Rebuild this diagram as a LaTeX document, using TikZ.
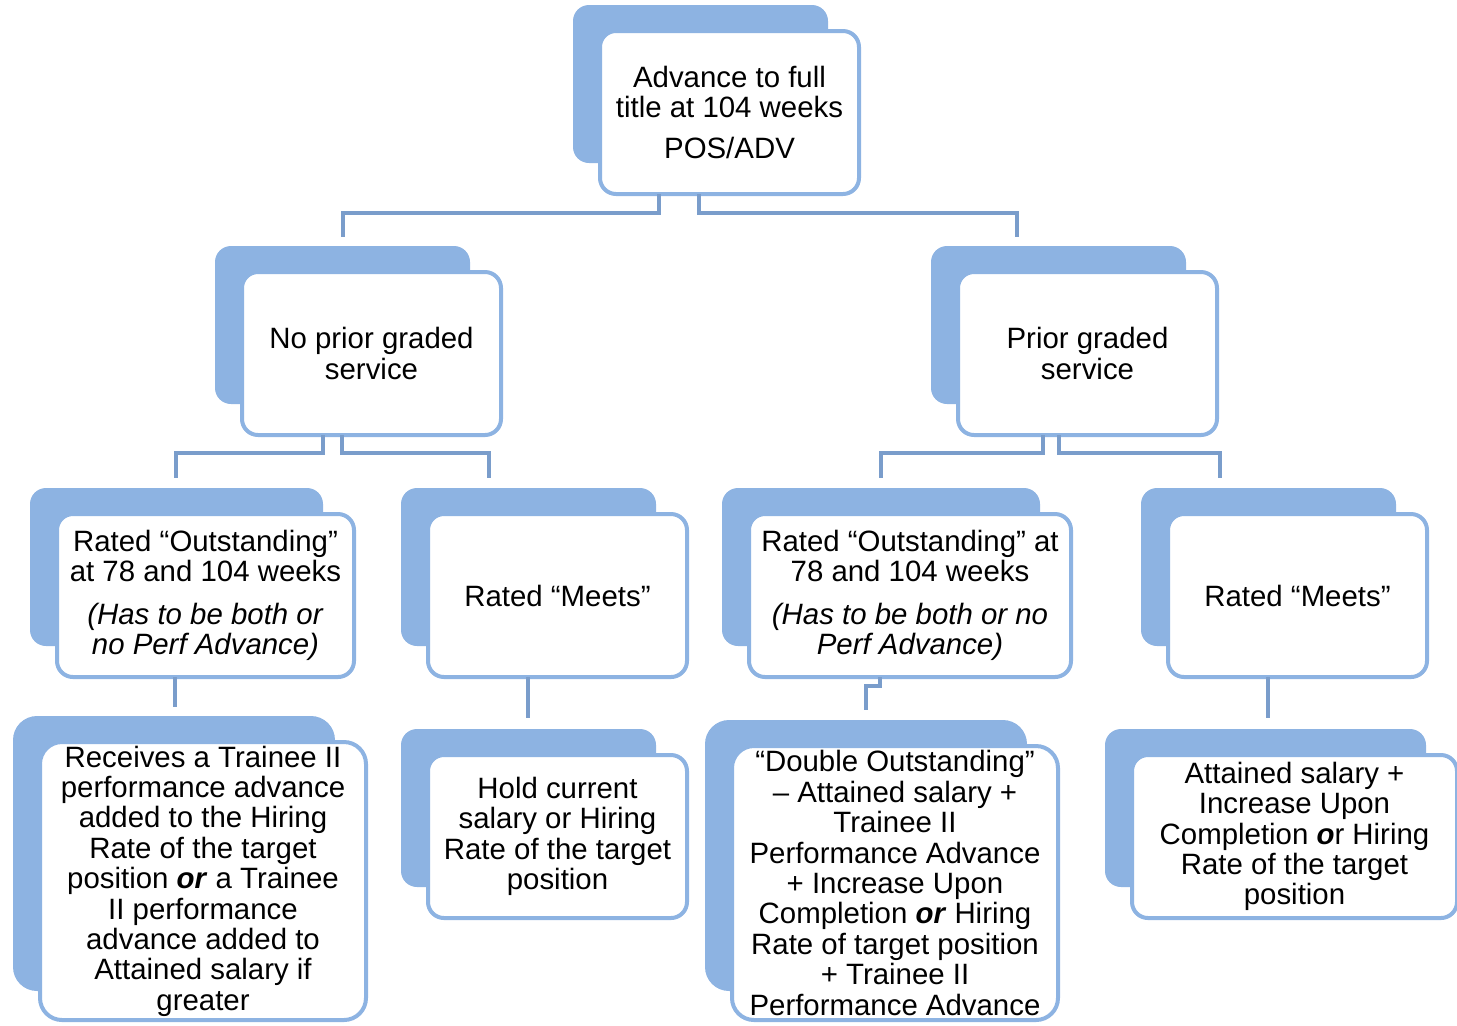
\documentclass[tikz,border=0pt]{standalone}
\usepackage{fontspec}
\setmainfont{Liberation Sans}
\usetikzlibrary{positioning,calc,backgrounds}
\definecolor{backblue}{HTML}{8DB3E2}
\definecolor{lineblue}{HTML}{7A9DCB}
\tikzset{
  box/.style={draw=backblue, line width=2pt, fill=white, rounded corners=8pt, align=center, inner sep=0pt, outer sep=0pt, font={\fontsize{14.7}{15.2}\selectfont}},
  bigbox/.style={box, rounded corners=11pt},
  link/.style={draw=lineblue, line width=2pt}
}

\begin{document}
\begin{tikzpicture}[x = .5pt, y = -.5pt]
\useasboundingbox (0,0) rectangle (1457,1025);
\node[box, minimum width = 129.5pt, minimum height = 81.5pt] (adv) at (729.5,112.5) {Advance to full\\title at 104 weeks\\[5.5pt]POS/ADV};
\node[box, minimum width = 129.5pt, minimum height = 81.5pt] (npg) at (371.5,353.5) {No prior graded\\service};
\node[box, minimum width = 129.5pt, minimum height = 81.5pt] (pg) at (1087.5,353.5) {Prior graded\\service};
\node[box, minimum width = 148.5pt, minimum height = 81.5pt] (outA) at (205.5,595.5) {Rated “Outstanding”\\at 78 and 104 weeks\\[6pt]\textit{(Has to be both or}\\\textit{no Perf Advance)}};
\node[box, minimum width = 129.5pt, minimum height = 81.5pt] (meetsB) at (557.5,595.5) {Rated “Meets”};
\node[box, minimum width = 161pt, minimum height = 81.5pt] (outC) at (910,595.5) {Rated “Outstanding” at\\78 and 104 weeks\\[6pt]\textit{(Has to be both or no}\\\textit{Perf Advance)}};
\node[box, minimum width = 129.5pt, minimum height = 81.5pt] (meetsD) at (1297.5,595.5) {Rated “Meets”};
\node[bigbox, minimum width = 163pt, minimum height = 139pt] (resA) at (203,881) {Receives a Trainee II\\performance advance\\added to the Hiring\\Rate of the target\\position \textbf{\textit{or}} a Trainee\\II performance\\advance added to\\Attained salary if\\greater};
\node[box, minimum width = 129.5pt, minimum height = 81.5pt] (resB) at (557.5,836.5) {Hold current\\salary or Hiring\\Rate of the target\\position};
\node[bigbox, minimum width = 163pt, minimum height = 137pt] (resC) at (895,883) {“Double Outstanding”\\– Attained salary +\\Trainee II\\Performance Advance\\+ Increase Upon\\Completion \textbf{\textit{or}} Hiring\\Rate of target position\\+ Trainee II\\Performance Advance};
\node[box, minimum width = 162.5pt, minimum height = 81.5pt] (resD) at (1294.5,836.5) {Attained salary +\\Increase Upon\\Completion \textbf{\textit{o}}r Hiring\\Rate of the target\\position};
\begin{scope}[on background layer]
\foreach \n in {adv,npg,pg,outA,meetsB,outC,meetsD,resB,resD}
  \fill[backblue, rounded corners = 8pt] ($(\n.north west)+(-27,-26)$) rectangle ($(\n.south east)+(-31,-31)$);
\foreach \n in {resA,resC}
  \fill[backblue, rounded corners = 12pt] ($(\n.north west)+(-27,-26)$) rectangle ($(\n.south east)+(-31,-29)$);
\end{scope}
\draw[link] ($(adv.south)+(-70.5,0)$) -- ++(0,19) -| ($(npg.north)+(-28.5,-35)$);
\draw[link] ($(adv.south)+(-30.5,0)$) -- ++(0,19) -| ($(pg.north)+(-70.5,-35)$);
\draw[link] ($(npg.south)+(-48.5,0)$) -- ++(0,18) -| ($(outA.north)+(-29.5,-36)$);
\draw[link] ($(npg.south)+(-29.5,0)$) -- ++(0,18) -| ($(meetsB.north)+(-68.5,-36)$);
\draw[link] ($(pg.south)+(-44.5,0)$) -- ++(0,18) -| ($(outC.north)+(-29,-36)$);
\draw[link] ($(pg.south)+(-28.5,0)$) -- ++(0,18) -| ($(meetsD.north)+(-77.5,-36)$);
\draw[link] ($(outA.south)+(-30.5,0)$) -- ($(resA.north)+(-28,-35)$);
\draw[link] ($(meetsB.south)+(-29.5,0)$) -- ($(resB.north)+(-29.5,-37)$);
\draw[link] ($(outC.south)+(-30,0)$) -- ++(0,9) -| ($(resC.north)+(-29,-36)$);
\draw[link] ($(meetsD.south)+(-29.5,0)$) -- ($(resD.north)+(-26.5,-37)$);
\end{tikzpicture}
\end{document}
